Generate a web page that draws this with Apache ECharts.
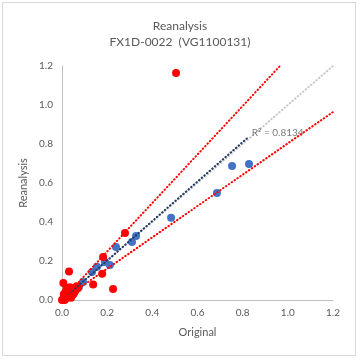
<!DOCTYPE html>
<html><head><meta charset="utf-8">
<script src="https://cdn.jsdelivr.net/npm/echarts@6/dist/echarts.min.js"></script>
<style>html,body{margin:0;padding:0;background:#fff}#c{width:360px;height:360px;}
#frame{position:absolute;left:2px;top:2px;width:354px;height:354px;border:1px solid #d9d9d9;pointer-events:none;box-sizing:border-box}</style>
</head><body><div id="c"></div><div id="frame"></div>
<script>
var titleText = 'Reanalysis\nFX1D-0022  (VG1100131)';
var xName = 'Original', yName = 'Reanalysis';
var axisTicks = [0, 0.2, 0.4, 0.6, 0.8, 1.0, 1.2];
var bluePoints = [
  [0.828,0.697],[0.753,0.687],[0.686,0.549],[0.483,0.422],[0.328,0.328],[0.31,0.297],
  [0.239,0.272],[0.19,0.195],[0.212,0.18],[0.155,0.17],[0.133,0.144],[0.093,0.092],
  [0.075,0.067],[0.055,0.05],[0.04,0.035],[0.02,0.02],[0.03,0.025],[0.01,0.012]
];
var redPoints = [
  [0.505,1.164],[0.279,0.344],[0.182,0.22],[0.178,0.135],[0.226,0.056],[0.138,0.08],
  [0.031,0.146],[0.006,0.087],[0.005,0.005],[0.01,0.02],[0.02,0.01],[0.015,0.04],
  [0.03,0.03],[0.04,0.05],[0.05,0.06],[0.06,0.05],[0.07,0.06],[0.02,0.06],[0.0,0.0],
  [0.03,0.015],[0.05,0.03],[0.012,0.0],[0.065,0.07],[0.04,0.012],[0.025,0.045],
  [0.045,0.025],[0.008,0.03],[0.035,0.065],[0.055,0.04]
];
var upperBand = [[0,0],[0.965,1.2]];
var lowerBand = [[0,0],[1.2,0.964]];
var refLine = [[0,0],[1.2,1.2]];
var trendLine = [[0,0],[0.82,0.83]];
var r2Label = [[0.955,0.86]];
var r2Text = 'R² = 0.8134';

var dot = {type:[0.5,3], cap:'round'};
var chart = echarts.init(document.getElementById('c'));
chart.setOption({
  animation:false,
  textStyle:{fontFamily:'Lato'},
  title:{text:titleText,left:'center',top:13,textStyle:{fontSize:12,fontWeight:'normal',color:'#595959',lineHeight:16,fontFamily:'Lato'}},
  grid:{left:62,right:27,top:66,bottom:60},
  xAxis:{type:'value',min:0,max:1.2,interval:0.2,name:xName,nameLocation:'middle',nameGap:27,nameMoveOverlap:false,
    nameTextStyle:{color:'#595959',fontSize:11},
    axisLine:{show:true,lineStyle:{color:'#bfbfbf'}},axisTick:{show:false},splitLine:{show:false},
    axisLabel:{color:'#595959',fontSize:10,margin:8,formatter:function(v){return v.toFixed(1);}}},
  yAxis:{type:'value',min:0,max:1.2,interval:0.2,name:yName,nameLocation:'middle',nameGap:33,nameMoveOverlap:false,
    nameTextStyle:{color:'#595959',fontSize:11},
    axisLine:{show:true,lineStyle:{color:'#bfbfbf'}},axisTick:{show:false},splitLine:{show:false},
    axisLabel:{color:'#595959',fontSize:10,margin:9,formatter:function(v){return v.toFixed(1);}}},
  series:[
    {type:'line',data:refLine,symbol:'none',lineStyle:Object.assign({color:'#c8c8c8',width:2},dot),z:1},
    {type:'scatter',data:bluePoints,symbolSize:8,itemStyle:{color:'#4472c4',opacity:1},z:3},
    {type:'scatter',data:redPoints,symbolSize:8,itemStyle:{color:'#ff0000',opacity:1},z:4},
    {type:'line',data:trendLine,symbol:'none',lineStyle:Object.assign({color:'#203864',width:2},dot),z:5},
    {type:'line',data:upperBand,symbol:'none',lineStyle:Object.assign({color:'#ff0000',width:2},dot),z:5},
    {type:'line',data:lowerBand,symbol:'none',lineStyle:Object.assign({color:'#ff0000',width:2},dot),z:5},
    {type:'scatter',data:r2Label,symbolSize:0,z:6,label:{show:true,position:'inside',formatter:r2Text,color:'#595959',fontSize:10}}
  ]
});
</script></body></html>
